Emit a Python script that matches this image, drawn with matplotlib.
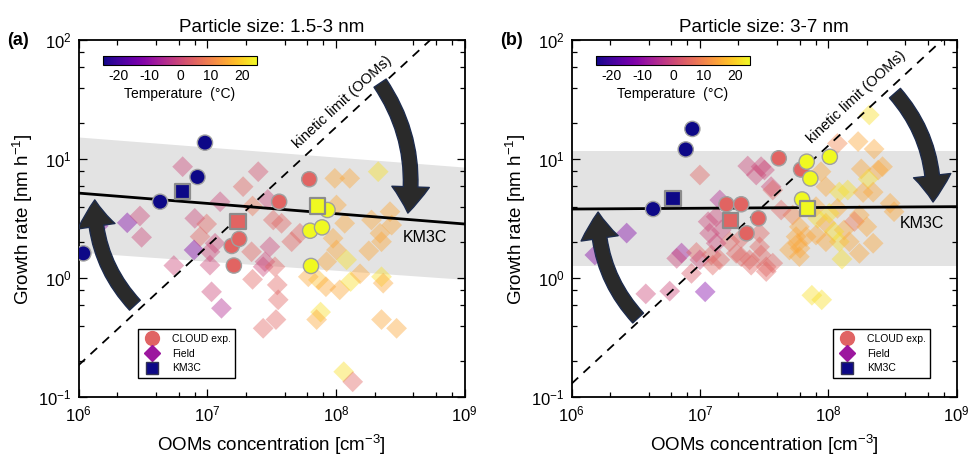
import math

import matplotlib
matplotlib.use("Agg")
import matplotlib.pyplot as plt
from matplotlib.colors import Normalize
from matplotlib.lines import Line2D
from matplotlib.patches import FancyArrowPatch
from matplotlib.ticker import LogLocator, NullFormatter

plt.rcParams["font.family"] = ["Liberation Sans", "DejaVu Sans"]
plt.rcParams["mathtext.fontset"] = "custom"
plt.rcParams["mathtext.rm"] = "Liberation Sans"
plt.rcParams["mathtext.it"] = "Liberation Sans:italic"
plt.rcParams["mathtext.bf"] = "Liberation Sans:bold"
plt.rcParams["axes.unicode_minus"] = False

# ---------------- panel (a): 1.5-3 nm ----------------
A_CLOUD_X = [1.09e6, 9.6e6, 8.4e6, 4.3e6, 1.61e7, 1.55e7, 1.77e7, 3.62e7, 6.2e7,
             8.6e7, 6.3e7, 7.8e7, 6.4e7]
A_CLOUD_GR = [1.62, 13.8, 7.1, 4.4, 1.28, 1.87, 2.14, 4.4, 6.8, 3.75, 2.51, 2.68, 1.27]
A_CLOUD_T = [-25, -25, -25, -25, 5, 5, 5, 5, 5, 25, 25, 25, 25]

A_KM3C_X = [6.44e6, 1.74e7, 7.2e7]
A_KM3C_GR = [5.35, 2.99, 4.05]
A_KM3C_T = [-25, 5, 25]

A_FIELD_X = [2.39e6, 3.0e6, 3.09e6, 6.44e6, 8.0e6, 9.9e6, 8.8e6, 7.9e6, 1.05e7, 1.15e7,
             1.26e7, 5.5e6, 1.05e7, 1.08e7, 1.29e7, 1.9e7, 2.49e7, 2.25e7, 2.21e7, 2.25e7,
             2.72e7, 2.95e7, 3.26e7, 3.78e7, 3.07e7, 2.81e7, 3.36e7, 3.5e7, 3.56e7, 3.42e7,
             2.72e7, 4.53e7, 5.25e7, 6.1e7, 7.3e7, 8.47e7, 8.36e7, 1.07e8, 9.8e7, 1.28e8,
             9.5e7, 1.01e8, 1.17e8, 1.01e8, 1.21e8, 1.30e8, 1.54e8, 1.80e8, 1.89e8, 2.2e8,
             2.26e8, 2.13e8, 2.63e8, 2.71e8, 2.26e8, 2.33e8, 7.6e7, 7.08e7, 2.26e8, 2.96e8,
             1.15e8, 1.35e8, 1.42e6]
A_FIELD_GR = [2.93, 3.34, 2.21, 8.67, 3.19, 2.86, 2.24, 1.73, 1.67, 1.97,
              4.40, 1.28, 1.29, 0.77, 0.56, 5.89, 7.87, 4.05, 1.67, 0.98,
              1.25, 4.6, 3.09, 2.90, 1.84, 1.38, 1.25, 0.88, 0.66, 0.45,
              0.38, 2.03, 2.39, 1.03, 0.97, 1.38, 0.85, 0.80, 6.92, 6.92,
              2.17, 1.73, 2.90, 4.13, 1.43, 0.94, 1.09, 1.70, 3.09, 2.39,
              2.03, 7.87, 3.63, 2.80, 1.03, 0.91, 0.52, 0.45, 0.45, 0.38,
              0.164, 0.135, 2.75]
A_FIELD_T = [-12, 0, 0, 0, 0, 5, 5, -12, 0, 0,
             0, 0, 0, 0, -5, 5, 2, 8, 5, 5,
             0, 0, 5, 5, 0, 0, 5, 5, 5, 5,
             5, 5, 5, 15, 18, 15, 15, 15, 15, 15,
             15, 15, 15, 15, 22, 22, 15, 15, 15, 15,
             15, 22, 15, 15, 22, 15, 22, 15, 15, 15,
             22, 5, -12]

A_LINE_X = [1e6, 1e9]
A_KM3C_LINE = [5.2, 2.86]
A_BAND_HI = [15.4, 8.6]
A_BAND_LO = [1.66, 0.98]
A_KINETIC_K = 1.86e-7   # GR = k * C

# ---------------- panel (b): 3-7 nm ----------------
B_CLOUD_X = [8.74e6, 7.76e6, 4.32e6, 4.12e7, 6.15e7, 1.61e7, 2.1e7, 2.86e7, 2.31e7,
             6.8e7, 1.03e8, 7.26e7, 6.26e7]
B_CLOUD_GR = [18.0, 12.1, 3.82, 10.2, 8.2, 4.19, 4.19, 3.19, 2.39, 9.55, 10.5, 6.9, 4.6]
B_CLOUD_T = [-25, -25, -25, 5, 5, 5, 5, 5, 5, 25, 25, 25, 25]

B_KM3C_X = [6.18e6, 1.73e7, 6.9e7]
B_KM3C_GR = [4.7, 3.07, 3.87]
B_KM3C_T = [-25, 5, 25]

B_FIELD_X = [1.52e6, 2.69e6, 3.79e6, 5.82e6, 1.1e7, 8.6e6, 7.2e6, 6.6e6, 9.4e6, 1.0e7,
             1.23e7, 1.26e7, 1.43e7, 1.92e7, 2.44e7, 3.0e7, 3.29e7, 1.0e7, 2.36e7, 3.0e7,
             2.75e7, 3.59e7, 1.43e7, 1.34e7, 1.16e7, 1.19e7, 1.47e7, 1.71e7, 1.34e7, 2.1e7,
             2.51e7, 2.92e7, 3.7e7, 3.29e7, 2.92e7, 2.1e7, 5.29e7, 5.96e7, 5.78e7, 6.73e7,
             4.3e7, 4.99e7, 5.96e7, 8.04e7, 8.28e7, 9.6e7, 8.79e7, 9.6e7, 1.22e8, 1.42e8,
             1.18e8, 1.33e8, 1.11e8, 1.22e8, 9.6e7, 1.28e8, 1.18e8, 1.71e8, 2.09e8, 2.28e8,
             1.81e8, 2.45e8, 2.05e8, 1.87e8, 2.24e8, 1.75e8, 1.6e8, 2.0e8, 1.75e8, 2.24e8,
             3.04e8, 3.26e8, 2.65e8, 7.46e7, 8.9e7, 5.62e7, 6.04e7, 8.04e7, 1.02e8, 3.19e7,
             3.7e7, 1.46e8]
B_FIELD_GR = [1.57, 2.40, 0.74, 0.78, 0.77, 1.10, 1.63, 1.47, 1.65, 1.43,
              1.57, 1.29, 1.43, 1.62, 1.43, 1.57, 1.25, 7.38, 8.78, 8.67,
              7.38, 5.89, 4.55, 3.29, 2.99, 2.39, 2.55, 2.03, 1.97, 1.52,
              1.29, 1.84, 1.34, 1.14, 2.39, 2.17, 3.40, 2.71, 1.97, 2.24,
              3.75, 1.73, 1.52, 4.0, 3.19, 2.90, 7.87, 5.89, 5.31, 5.52,
              3.87, 2.55, 2.47, 2.03, 2.03, 1.45, 13.6, 14.1, 23.6, 12.2,
              8.3, 8.13, 6.83, 5.26, 5.3, 3.40, 3.0, 2.71, 1.62, 1.97,
              4.27, 3.63, 8.67, 0.72, 0.66, 2.24, 1.79, 2.31, 3.52, 8.13,
              5.52, 2.03]
B_FIELD_T = [-12, -12, 0, 0, -12, 3, -8, 0, 5, 0,
             5, 5, 5, 5, 5, 5, 5, 5, 0, 0,
             0, 0, -5, 0, 0, 0, 0, 5, 0, 5,
             5, 5, 5, 5, 5, 5, 10, 15, 15, 15,
             5, 15, 15, 15, 22, 15, 15, 15, 22, 22,
             15, 15, 22, 22, 15, 22, 10, 15, 22, 15,
             15, 15, 22, 15, 15, 15, 8, 15, 15, 15,
             15, 15, 15, 22, 22, 15, 15, 15, 22, 0,
             5, 15]

B_LINE_X = [1e6, 1e9]
B_KM3C_LINE = [3.82, 4.0]
B_BAND_HI = [11.8, 11.8]
B_BAND_LO = [1.28, 1.28]
B_KINETIC_K = 1.30e-7

T_MIN, T_MAX = -25, 25
CBAR_TICKS = [-20, -10, 0, 10, 20]

cmap = plt.get_cmap("plasma")
norm = Normalize(T_MIN, T_MAX)
ARROW_FC = "#2a2a2a"
ARROW_EC = "#1d2b4c"

fig = plt.figure(figsize=(9.71, 4.65), dpi=100)
ax_a = fig.add_axes([0.0809, 0.1456, 0.3976, 0.7677])
ax_b = fig.add_axes([0.5886, 0.1456, 0.3965, 0.7677])
cax_a = fig.add_axes([0.1061, 0.8602, 0.1586, 0.0194])
cax_b = fig.add_axes([0.6138, 0.8602, 0.1586, 0.0194])


def big_arrow(ax, tail, tip, rad):
    arr = FancyArrowPatch(tail, tip, transform=ax.transAxes,
                          arrowstyle="simple,tail_width=10.5,head_width=27,head_length=19",
                          connectionstyle=f"arc3,rad={rad}", mutation_scale=1,
                          fc=ARROW_FC, ec=ARROW_EC, lw=1.0, shrinkA=0, shrinkB=0, zorder=8)
    ax.add_patch(arr)


def panel(ax, cax, fx, fgr, ft, cx, cgr, ct, kx, kgr, kt, lx, line, hi, lo, kin,
          title, letter, kin_pos, km_pos, leg_pos, arrows):
    ax.set_xscale("log")
    ax.set_yscale("log")
    ax.set_xlim(1e6, 1e9)
    ax.set_ylim(0.1, 100)

    ax.fill_between(lx, lo, hi, color="#e3e3e3", lw=0, zorder=1)
    ax.scatter(fx, fgr, c=ft, cmap=cmap, norm=norm, marker="D", s=112,
               alpha=0.42, linewidths=0, zorder=2)
    ax.plot(lx, line, color="black", lw=2.0, zorder=3)
    ax.plot(lx, [kin * v for v in lx], color="black", lw=1.3, ls=(0, (5, 4)), zorder=3)
    ax.scatter(cx, cgr, c=ct, cmap=cmap, norm=norm, marker="o", s=120,
               edgecolors="#a0a0a0", linewidths=1.0, zorder=4)
    ax.scatter(kx, kgr, c=kt, cmap=cmap, norm=norm, marker="s", s=125,
               edgecolors="#8c8c8c", linewidths=1.6, zorder=5)

    # label of the dashed line, rotated along it
    p1 = ax.transData.transform((1e6, kin * 1e6))
    p2 = ax.transData.transform((1e8, kin * 1e8))
    ang = math.degrees(math.atan2(p2[1] - p1[1], p2[0] - p1[0]))
    ax.text(*kin_pos, "kinetic limit (OOMs)", transform=ax.transAxes, rotation=ang,
            ha="center", va="center", fontsize=10.5, zorder=7)
    ax.text(*km_pos, "KM3C", transform=ax.transAxes, ha="center", va="center",
            fontsize=11.5, zorder=7)

    for tail, tip in arrows:
        big_arrow(ax, tail, tip, -0.2)

    handles = [
        Line2D([], [], ls="none", marker="o", ms=10, mfc="#e06464", mec="#e06464"),
        Line2D([], [], ls="none", marker="D", ms=8, mfc="#9c179e", mec="#9c179e"),
        Line2D([], [], ls="none", marker="s", ms=9, mfc="#0d0887", mec="#333355"),
    ]
    leg = ax.legend(handles, ["CLOUD exp.", "Field", "KM3C"], loc="lower left",
                    bbox_to_anchor=leg_pos, fontsize=7.5, frameon=True, fancybox=False,
                    edgecolor="black", framealpha=1, borderpad=0.45, labelspacing=0.45,
                    handletextpad=1.0, borderaxespad=0, handlelength=1.8)
    leg.get_frame().set_linewidth(1.0)
    leg.set_zorder(9)

    ax.xaxis.set_major_locator(LogLocator(base=10, numticks=10))
    ax.yaxis.set_major_locator(LogLocator(base=10, numticks=10))
    ax.xaxis.set_minor_locator(LogLocator(base=10, subs=[2, 4, 6, 8], numticks=10))
    ax.yaxis.set_minor_locator(LogLocator(base=10, subs=[2, 4, 6, 8], numticks=10))
    ax.xaxis.set_minor_formatter(NullFormatter())
    ax.yaxis.set_minor_formatter(NullFormatter())
    ax.tick_params(which="both", direction="in", top=True, right=True, width=0.9)
    ax.tick_params(which="major", length=6, labelsize=12, pad=5)
    ax.tick_params(which="minor", length=3.5)
    for sp in ax.spines.values():
        sp.set_linewidth(1.3)

    ax.set_xlabel("OOMs concentration [cm$^{-3}$]", fontsize=13.5, labelpad=6)
    ax.set_ylabel("Growth rate [nm h$^{-1}$]", fontsize=13.5, labelpad=2)
    ax.set_title(title, fontsize=13.5, pad=6)
    ax.text(-0.185, 1.0, letter, transform=ax.transAxes, fontsize=13, fontweight="bold",
            ha="left", va="center")

    sm = plt.cm.ScalarMappable(norm=norm, cmap=cmap)
    cb = fig.colorbar(sm, cax=cax, orientation="horizontal", ticks=CBAR_TICKS)
    cb.outline.set_linewidth(0.8)
    cax.tick_params(length=0, labelsize=10, pad=3)
    cax.set_xlabel("Temperature  (°C)", fontsize=10, labelpad=3)


panel(ax_a, cax_a, A_FIELD_X, A_FIELD_GR, A_FIELD_T, A_CLOUD_X, A_CLOUD_GR, A_CLOUD_T,
      A_KM3C_X, A_KM3C_GR, A_KM3C_T, A_LINE_X, A_KM3C_LINE, A_BAND_HI, A_BAND_LO,
      A_KINETIC_K, "Particle size: 1.5-3 nm", "(a)",
      kin_pos=(0.685, 0.827), km_pos=(0.897, 0.449), leg_pos=(0.154, 0.054),
      arrows=[((0.146, 0.258), (0.042, 0.553)), ((0.781, 0.880), (0.853, 0.516))])
panel(ax_b, cax_b, B_FIELD_X, B_FIELD_GR, B_FIELD_T, B_CLOUD_X, B_CLOUD_GR, B_CLOUD_T,
      B_KM3C_X, B_KM3C_GR, B_KM3C_T, B_LINE_X, B_KM3C_LINE, B_BAND_HI, B_BAND_LO,
      B_KINETIC_K, "Particle size: 3-7 nm", "(b)",
      kin_pos=(0.739, 0.841), km_pos=(0.910, 0.488), leg_pos=(0.679, 0.054),
      arrows=[((0.173, 0.222), (0.069, 0.519)), ((0.840, 0.852), (0.939, 0.547))])

fig.savefig("out.png", dpi=100)
